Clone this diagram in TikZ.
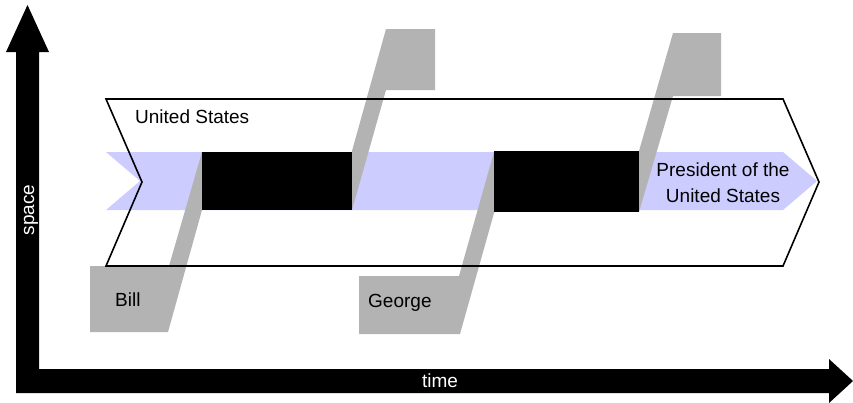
\documentclass[tikz,border=0pt]{standalone}
\usepackage{fontspec}
\setmainfont{Liberation Sans}
\definecolor{bandblue}{RGB}{204,204,255}
\definecolor{shadegray}{RGB}{179,179,179}
\begin{document}
\begin{tikzpicture}[x=1pt,y=-1pt,
  grayshape/.style={fill=shadegray},
  blackbox/.style={fill=black},
  outline/.style={draw=black,line width=1.6pt,line join=miter},
  lbl/.style={font=\fontsize{19}{26}\selectfont,inner sep=0pt},
  axislbl/.style={lbl,text=white}]
\useasboundingbox (0,0) rectangle (853,402);
% axes
\fill (16,393) -- (16,52) -- (6,52) -- (27.5,5) -- (49,52) -- (39,52) -- (39,369)
  -- (829,369) -- (829,359) -- (853,381) -- (829,403) -- (829,393) -- cycle;
% band background
\fill[white] (106,99) -- (783,99) -- (819,182) -- (783,266) -- (106,266) -- (142,182) -- cycle;
% blue path
\fill[bandblue] (106,152) -- (783,152) -- (817,181) -- (783,210) -- (106,210) -- (140,181) -- cycle;
% gray shapes
\fill[grayshape] (90,266) -- (169,266) -- (202,152) -- (202,210) -- (168,332) -- (90,332) -- cycle;
\fill[grayshape] (352,210) -- (352,151) -- (386,29) -- (435,29) -- (435,90) -- (386,90) -- cycle;
\fill[grayshape] (359,276) -- (459,276) -- (494,152) -- (494,213) -- (460,334) -- (359,334) -- cycle;
\fill[grayshape] (639,212) -- (639,151) -- (673,33) -- (721,33) -- (721,96) -- (673,96) -- cycle;
% black boxes
\fill[blackbox] (202,152) rectangle (352,210);
\fill[blackbox] (494,151) rectangle (639,212);
% band outline
\draw[outline] (106,99) -- (783,99) -- (819,182) -- (783,266) -- (106,266) -- (142,182) -- cycle;
% labels
\node[lbl,anchor=base west] (us) at (135,123) {United States};
\node[lbl,align=center] (pres) at (723,183) {President of the\\United States};
\node[lbl,anchor=base west] (bill) at (115,306) {Bill};
\node[lbl,anchor=base west] (george) at (368,307) {George};
\node[axislbl,anchor=base,rotate=90] (space) at (34,210) {space};
\node[axislbl,anchor=base] (time) at (440,387) {time};
\end{tikzpicture}
\end{document}
